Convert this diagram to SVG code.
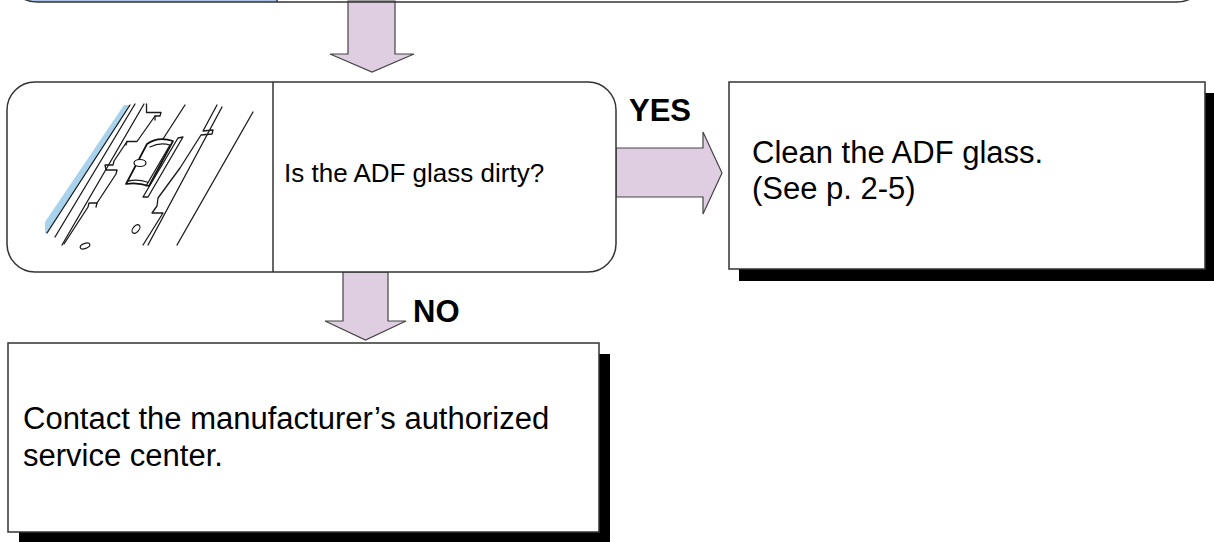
<svg xmlns="http://www.w3.org/2000/svg" width="1214" height="542" viewBox="0 0 1214 542">
  <style>
    .box{fill:#fff;stroke:#333;stroke-width:1.5}
    .shadow{fill:#000}
    .arrow{fill:#dfcde2;stroke:#444;stroke-width:1.2;stroke-linejoin:miter}
    .t{font-family:"Liberation Sans",Arial,sans-serif;fill:#000}
    .lbl{font-family:"Liberation Sans",Arial,sans-serif;font-weight:bold;font-size:31px;fill:#000}
    .ill{fill:none;stroke:#1a1a1a;stroke-width:1.3;stroke-linecap:round;stroke-linejoin:round}
  </style>

  <!-- flow arrows and their labels -->
  <g id="connectors">
    <polygon class="arrow" points="348,1 395,1 395,54 414,54 372,72 330,54 348,54"/>
    <polygon class="arrow" points="616,148 703,148 703,132 722,173 703,214 703,197 616,197"/>
    <polygon class="arrow" points="343,272 388,272 388,321 406,321 365.5,340 325,321 343,321"/>
    <text class="lbl" x="629" y="121">YES</text>
    <text class="lbl" x="413" y="322">NO</text>
  </g>

  <!-- previous step, only its lower edge is in view -->
  <g id="node-previous">
    <path d="M7,-60 L7,-28 A30,30 0 0 0 37,2 L277,2 L277,-60 Z" fill="#adc0e8"/>
    <rect class="box" x="7" y="-60" width="1200" height="62" rx="30" style="fill:none"/>
    <line x1="277" y1="-60" x2="277" y2="2" stroke="#333" stroke-width="1.5"/>
  </g>

  <!-- question: is the ADF glass dirty? -->
  <g id="node-question">
    <rect class="box" x="7" y="82" width="609" height="190" rx="28"/>
    <line x1="273" y1="82" x2="273" y2="272" stroke="#333" stroke-width="1.5"/>
    <!-- sketch of the ADF glass area -->
    <g id="adf-sketch">
      <polygon points="124,105 130,105 47,233 45,233 45,222" fill="#a9d3ec"/>
      <line class="ill" x1="130" y1="105" x2="47" y2="233"/>
      <line class="ill" x1="135" y1="104" x2="55" y2="237"/>
      <line class="ill" x1="144" y1="104" x2="62" y2="245"/>
      <path class="ill" d="M146.5,104 L146.5,112.5 L161,112.5 L160,116 L155,116 L137,141.5 L127,141.5 L114,161 L113,165 L105,165 L106,170 L117,170 L116,174 L97,203 L89,203 L88,207 L64,244"/>
      <path class="ill" d="M155,116 L155,120 M127,141.5 L126,145 M97,203 L96,207"/>
      <line class="ill" x1="185" y1="105" x2="163" y2="139"/>
      <path d="M147,144 Q158,136 173,141 L149,186 Q137,182 126,184 Z" fill="#fff" stroke="#111" stroke-width="1.7" stroke-linejoin="round"/>
      <path class="ill" d="M170,145 L146,186 M150,147 Q160,142 170,145 M128,181 Q138,179 147,182"/>
      <ellipse cx="140" cy="163" rx="6" ry="3.5" fill="#fff" stroke="#111" stroke-width="1.2"/>
      <path class="ill" d="M178,138 L143,197 L148,197 L183,137 Z"/>
      <path class="ill" d="M217,105 L203,131 L213,130 L212,134 L201,135 L180,168 L158,198 L157,206 L152,213 L163,213 L143,245"/>
      <line class="ill" x1="222" y1="107" x2="148" y2="245"/>
      <line class="ill" x1="253" y1="112" x2="177" y2="245"/>
      <ellipse cx="136" cy="229" rx="5" ry="3" transform="rotate(-50 136 229)" fill="none" stroke="#1a1a1a" stroke-width="1.2"/>
      <ellipse cx="85" cy="246" rx="5" ry="2.5" transform="rotate(-20 85 246)" fill="none" stroke="#1a1a1a" stroke-width="1.2"/>
    </g>
    <text class="t" x="284" y="182" font-size="26">Is the ADF glass dirty?</text>
  </g>

  <!-- YES: clean the glass -->
  <g id="node-clean">
    <rect class="shadow" x="739" y="93" width="476" height="188"/>
    <rect class="box" x="729" y="82" width="476" height="187"/>
    <text class="t" font-size="31">
      <tspan x="752" y="163">Clean the ADF glass.</tspan>
      <tspan x="752" y="199">(See p. 2-5)</tspan>
    </text>
  </g>

  <!-- NO: contact service -->
  <g id="node-service">
    <rect class="shadow" x="19" y="354" width="591" height="190"/>
    <rect class="box" x="8" y="343" width="591" height="189"/>
    <text class="t" font-size="31">
      <tspan x="23" y="429">Contact the manufacturer’s authorized</tspan>
      <tspan x="23" y="466">service center.</tspan>
    </text>
  </g>
</svg>
